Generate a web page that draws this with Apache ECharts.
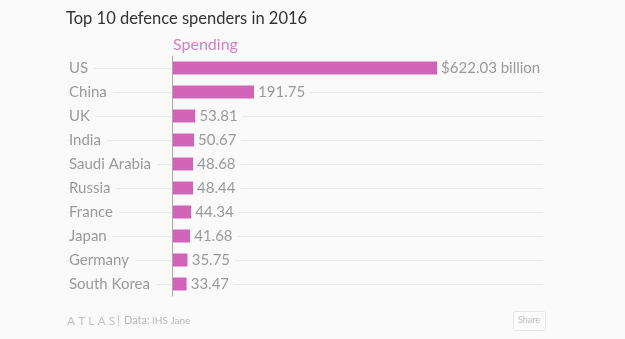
<!DOCTYPE html>
<html>
<head>
<meta charset="utf-8">
<script src="https://cdn.jsdelivr.net/npm/echarts@6/dist/echarts.min.js"></script>
<style>
html,body{margin:0;padding:0;background:#fafafa;}
#chart{width:625px;height:339px;}
</style>
</head>
<body>
<div id="chart"></div>
<script>
const categories = ['US', 'China', 'UK', 'India', 'Saudi Arabia', 'Russia', 'France', 'Japan', 'Germany', 'South Korea'];
const spending = [622.03, 191.75, 53.81, 50.67, 48.68, 48.44, 44.34, 41.68, 35.75, 33.47];
const seriesName = 'Spending';
const titleText = 'Top 10 defence spenders in 2016';

const BG = '#fafafa';
const chart = echarts.init(document.getElementById('chart'), null, {renderer: 'canvas'});
chart.setOption({
  backgroundColor: BG,
  animation: false,
  title: [
    {text: titleText, left: 61, top: 5, textStyle: {fontFamily: 'Lato', fontSize: 16.5, fontWeight: 'normal', color: '#333'}},
    {text: seriesName, left: 168, top: 32, textStyle: {fontFamily: 'Lato', fontSize: 16, fontWeight: 'normal', color: '#d67fc7'}}
  ],
  grid: {left: 67, right: 82, top: 56, bottom: 43, containLabel: false, outerBoundsMode: 'none'},
  xAxis: {
    type: 'value', min: -248, max: 871, show: false
  },
  yAxis: {
    type: 'category', data: categories, inverse: true, z: 3,
    axisLine: {show: true, onZero: true, lineStyle: {color: '#a8a8a8', width: 1}},
    axisTick: {show: false},
    splitLine: {show: false},
    axisLabel: {
      align: 'left', margin: -2,
      formatter: v => '{a|' + v + '}',
      rich: {a: {fontFamily: 'Lato', fontSize: 15, color: '#9a9a9a', backgroundColor: BG, padding: [0, 6, 0, 0]}}
    }
  },
  series: [
    {
      type: 'line', data: [], z: 1, silent: true,
      markLine: {
        silent: true, z: 1, symbol: 'none', label: {show: false},
        lineStyle: {color: '#e9e9e9', width: 1, type: 'solid'},
        data: categories.map(c => ({yAxis: c}))
      }
    },
    {
      type: 'bar', name: seriesName, data: spending, barWidth: 13, z: 2,
      itemStyle: {color: '#d264b8'},
      label: {
        show: true, position: 'right', distance: 0,
        fontFamily: 'Lato', fontSize: 15, color: '#9a9a9a',
        backgroundColor: BG, padding: [0, 5, 0, 4],
        formatter: p => p.dataIndex === 0 ? '$' + p.value.toFixed(2) + ' billion' : p.value.toFixed(2)
      }
    }
  ],
  graphic: [
    {type: 'text', left: 67, top: 315, style: {text: 'A T L A S', font: '12px Lato', fill: '#c4c4c4'}},
    {type: 'text', left: 117, top: 315, style: {text: '|', font: '11px Lato', fill: '#c8c8c8'}},
    {type: 'text', left: 124, top: 315, style: {text: 'Data:', font: '11px Lato', fill: '#b8b8b8'}},
    {type: 'text', left: 152, top: 316, style: {text: 'IHS Jane', font: '10px Lato', fill: '#b8b8b8'}},
    {type: 'rect', left: 513, top: 311, shape: {width: 32, height: 19, r: 2}, style: {fill: '#fdfdfd', stroke: '#e6e6e6', lineWidth: 1}},
    {type: 'text', left: 518, top: 316, style: {text: 'Share', font: '9px Lato', fill: '#b8b8b8'}}
  ]
});
</script>
</body>
</html>
